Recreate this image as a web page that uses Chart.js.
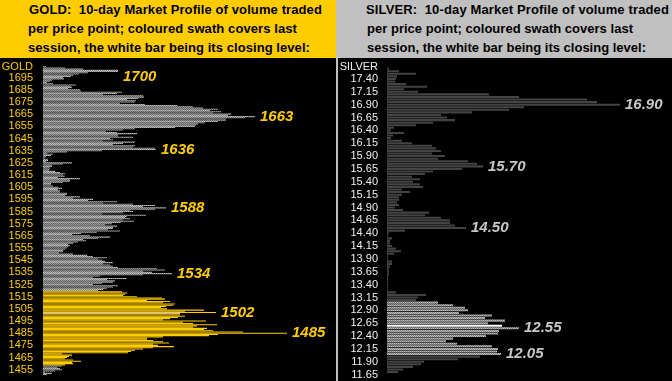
<!DOCTYPE html>
<html><head><meta charset="utf-8">
<script src="https://cdn.jsdelivr.net/npm/chart.js@4/dist/chart.umd.min.js"></script>
<style>
html,body{margin:0;padding:0;background:#000;}
#wrap{position:relative;width:672px;height:381px;overflow:hidden;background:#000;font-family:"Liberation Sans",Arial,sans-serif;}
.hdr{position:absolute;top:0;height:58px;}
.hdr div{position:absolute;white-space:nowrap;font-weight:bold;font-size:13px;line-height:19px;color:#000;}
.tag{position:absolute;top:59px;height:14px;line-height:14px;font-size:11px;text-align:right;}
canvas{position:absolute;top:58px;}
</style>
</head><body>
<div id="wrap">
  <div class="hdr" style="left:0;width:336px;background:#FFCC00;">
    <div class="fit" data-w="293" style="left:29px;top:0;">GOLD:&nbsp; 10-day Market Profile of volume traded</div>
    <div class="fit" data-w="269" style="left:28px;top:19px;">per price point; coloured swath covers last</div>
    <div class="fit" data-w="282" style="left:28px;top:38px;">session, the white bar being its closing level:</div>
  </div>
  <div class="hdr" style="left:336px;width:336px;background:#C0C0C0;">
    <div class="fit" data-w="303" style="left:30px;top:0;">SILVER:&nbsp; 10-day Market Profile of volume traded</div>
    <div class="fit" data-w="266" style="left:31px;top:19px;">per price point; coloured swath covers last</div>
    <div class="fit" data-w="279" style="left:31px;top:38px;">session, the white bar being its closing level:</div>
  </div>
  <div style="position:absolute;left:336px;top:58px;width:2px;height:323px;background:#C0C0C0;"></div>
  <canvas id="gold" width="336" height="323" style="left:0;"></canvas>
  <canvas id="silver" width="334" height="323" style="left:338px;"></canvas>
  <div class="tag" style="left:0;width:33px;color:#FFCC00;">GOLD</div>
  <div class="tag" style="left:338px;width:40px;color:#F0F0F0;">SILVER</div>
</div>
<script>
// ---------- GOLD ----------
const goldTopPrice = 1704; // price of first bar, one bar per 1 point going down
const goldVolume = [
  3,22,40,75,75,45,36,30,28,20,
  21,9,7,4,10,33,28,29,25,37,
  38,79,74,60,100,101,95,84,93,92,
  77,102,134,150,160,175,167,178,170,188,
  185,212,202,183,183,175,162,155,153,152,
  132,92,80,63,74,94,75,75,90,67,
  70,60,92,80,70,92,90,112,113,59,
  24,4,10,8,3,2,5,5,3,29,
  20,9,9,7,7,6,12,17,22,20,
  22,15,37,27,27,20,8,8,10,15,
  19,15,17,17,24,24,22,37,30,50,
  45,74,60,90,112,100,123,112,87,90,
  80,59,103,84,82,87,80,91,78,69,
  62,74,70,70,65,77,54,38,29,47,
  67,55,40,43,35,30,25,27,25,24,
  22,20,20,16,30,44,50,64,55,59,
  62,70,60,67,70,75,114,122,100,109,
  129,100,57,50,84,64,72,70,59,50,
  75,70,64,60,55,79,84,82,80,94,
  119,122,104,127,120,132,130,123,118,124,
  161,142,173,137,137,142,135,127,120,163,
  140,150,174,154,150,164,161,170,200,244,
  175,166,120,104,104,110,120,126,110,115,
  131,110,100,92,88,85,19,29,26,24,
  22,30,38,29,30,22,19,14,17,19,
  12,2,9,4
];
const goldTickLabels = ['1695','1685','1675','1665','1655','1645','1635','1625','1615','1605','1595','1585','1575','1565','1555','1545','1535','1525','1515','1505','1495','1485','1475','1465','1455'];
const goldSessionLow = 1459, goldSessionHigh = 1519, goldClose = 1501;
const goldCallouts = ['1700','1663','1636','1588','1534','1502','1485'];

// ---------- SILVER ----------
const silverTopPrice = 17.60; // one bar per 0.05 going down
const silverVolume = [
  2,12,29,10,9,8,19,40,17,31,
  102,132,200,210,233,137,122,85,54,60,
  68,46,29,7,4,17,6,4,15,25,
  45,49,54,45,58,51,81,90,96,75,
  46,38,25,33,26,33,36,15,23,15,
  12,12,10,12,8,16,42,38,54,63,
  63,68,79,18,2,1,5,3,3,5,
  9,14,7,1,1,5,5,3,2,2,
  2,1,1,1,1,1,1,9,39,31,
  29,51,66,78,81,72,105,98,118,101,
  115,132,112,111,99,66,59,70,105,111,
  110,114,93,71,37,34,26,16,11,0
];
const silverTickLabels = ['17.40','17.15','16.90','16.65','16.40','16.15','15.90','15.65','15.40','15.15','14.90','14.65','14.40','14.15','13.90','13.65','13.40','13.15','12.90','12.65','12.40','12.15','11.90','11.65'];
const silverSessionLow = 12.05, silverSessionHigh = 13.05, silverClose = 12.60;
const silverCallouts = ['16.90','15.70','14.50','12.55','12.05'];

// ---------- header text fitting ----------
document.querySelectorAll('.fit').forEach(el => {
  const target = parseFloat(el.dataset.w);
  const w = el.getBoundingClientRect().width;
  const n = el.textContent.length;
  el.style.letterSpacing = ((target - w) / n).toFixed(3) + 'px';
});

// ---------- helpers ----------
function dither(a, b) {
  const c = document.createElement('canvas'); c.width = 2; c.height = 2;
  const g = c.getContext('2d');
  g.fillStyle = a; g.fillRect(0, 0, 2, 2);
  g.fillStyle = b; g.fillRect(0, 0, 1, 1); g.fillRect(1, 1, 1, 1);
  return g.createPattern(c, 'repeat');
}
const lightGray = dither('#C0C0C0', '#808080');

const calloutPlugin = {
  id: 'callouts',
  afterDatasetsDraw(chart, args, opts) {
    const {ctx, chartArea, scales} = chart;
    const labels = chart.data.labels;
    const data = chart.data.datasets[0].data;
    ctx.save();
    ctx.font = 'italic bold 15px "Liberation Sans", Arial, sans-serif';
    ctx.fillStyle = opts.color;
    ctx.textBaseline = 'middle';
    ctx.textAlign = 'left';
    opts.items.forEach(txt => {
      const idx = labels.indexOf(txt);
      if (idx < 0) return;
      const px = scales.x.getPixelForValue(data[idx]) + 5;
      const py = Math.max(scales.y.getPixelForValue(idx), chartArea.top + 11);
      ctx.fillText(txt, px, py);
    });
    ctx.restore();
  }
};

function makeChart(id, labels, values, colors, ticks, tickColor, axisWidth, xMax, padTop, padBottom, barPct, callouts, calloutColor) {
  return new Chart(document.getElementById(id), {
    type: 'bar',
    data: { labels: labels, datasets: [{ data: values, backgroundColor: colors, borderWidth: 0, barPercentage: barPct, categoryPercentage: 1 }] },
    options: {
      indexAxis: 'y', responsive: false, animation: false, devicePixelRatio: 1,
      layout: { padding: { top: padTop, bottom: padBottom, left: 0, right: 0 } },
      plugins: { legend: { display: false }, tooltip: { enabled: false }, callouts: { items: callouts, color: calloutColor } },
      scales: {
        x: { type: 'linear', min: 0, max: xMax, display: false },
        y: {
          type: 'category',
          grid: { display: false, drawTicks: false },
          border: { display: false },
          ticks: {
            autoSkip: false, padding: axisWidth === 43 ? 10 : 9, color: tickColor,
            font: { family: '"Liberation Sans", Arial, sans-serif', size: 11 },
            callback: function (v, i) { const l = this.getLabelForValue(v); return ticks.includes(l) ? l : ''; }
          },
          afterFit: s => { s.width = axisWidth; s.paddingTop = 0; s.paddingBottom = 0; }
        }
      }
    },
    plugins: [calloutPlugin]
  });
}

// gold
const goldPrices = goldVolume.map((_, i) => goldTopPrice - i);
const goldLabels = goldPrices.map(p => String(p));
const goldColors = goldPrices.map(p => p === goldClose ? '#FFFFFF' : (p >= goldSessionLow && p <= goldSessionHigh ? '#FFCC00' : lightGray));
makeChart('gold', goldLabels, goldVolume, goldColors, goldTickLabels, '#FFCC00', 43, 293, 8.1, 5.8, 0.9, goldCallouts, '#FFCC00');

// silver
const silverPrices = silverVolume.map((_, i) => Math.round((silverTopPrice - i * 0.05) * 100) / 100);
const silverLabels = silverPrices.map(p => p.toFixed(2));
const silverColors = silverPrices.map(p => Math.abs(p - silverClose) < 1e-6 ? '#FFFFFF' : (p >= silverSessionLow - 1e-6 && p <= silverSessionHigh + 1e-6 ? lightGray : '#444444'));
makeChart('silver', silverLabels, silverVolume, silverColors, silverTickLabels, '#F0F0F0', 49, 285, 9.4, 5.1, 0.8, silverCallouts, '#C8C8C8');
</script>
</body></html>
